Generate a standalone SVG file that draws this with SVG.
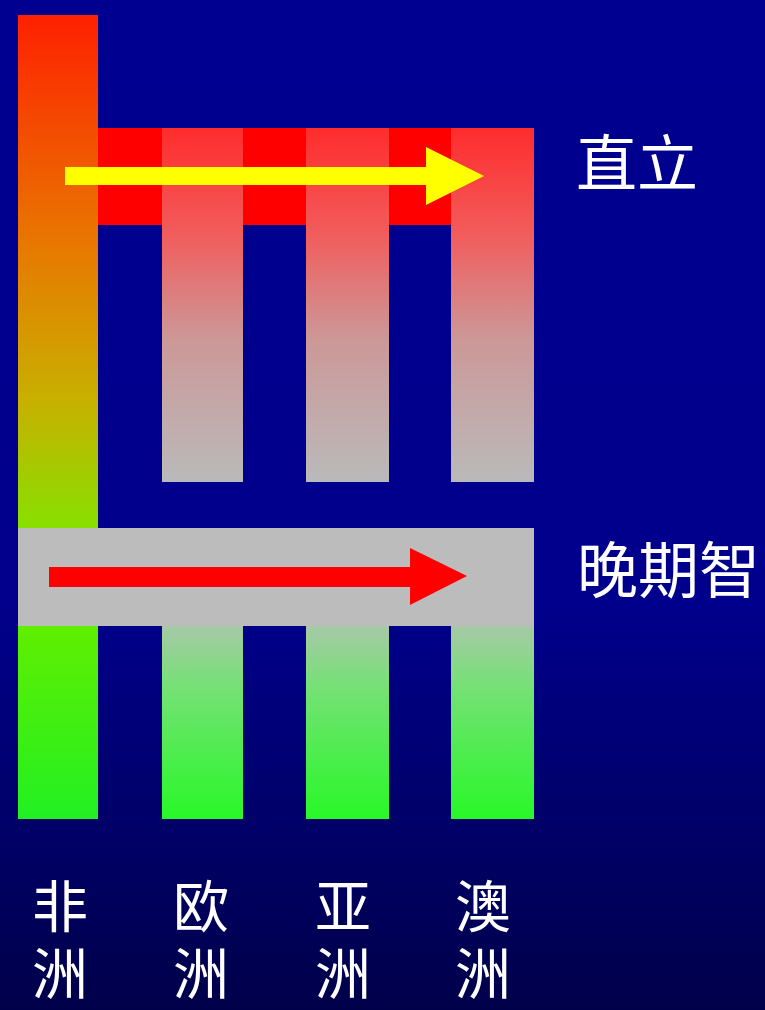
<svg xmlns="http://www.w3.org/2000/svg" width="765" height="1010" viewBox="0 0 765 1010">
<defs>
<linearGradient id="bg" x1="0" y1="0" x2="0" y2="1">
<stop offset="0" stop-color="#000090"/>
<stop offset="0.6" stop-color="#00008c"/>
<stop offset="1" stop-color="#00004a"/>
</linearGradient>
<linearGradient id="afTop" gradientUnits="userSpaceOnUse" x1="0" y1="15" x2="0" y2="528">
<stop offset="0" stop-color="#ff2000"/>
<stop offset="0.45" stop-color="#e87800"/>
<stop offset="0.75" stop-color="#c8b000"/>
<stop offset="1" stop-color="#88e000"/>
</linearGradient>
<linearGradient id="afBot" gradientUnits="userSpaceOnUse" x1="0" y1="625" x2="0" y2="818">
<stop offset="0" stop-color="#60ee00"/>
<stop offset="1" stop-color="#22f022"/>
</linearGradient>
<linearGradient id="colTop" gradientUnits="userSpaceOnUse" x1="0" y1="128" x2="0" y2="482">
<stop offset="0" stop-color="#ff2c2c"/>
<stop offset="0.3" stop-color="#f25c5c"/>
<stop offset="0.6" stop-color="#cc9898"/>
<stop offset="1" stop-color="#bababa"/>
</linearGradient>
<linearGradient id="colBot" gradientUnits="userSpaceOnUse" x1="0" y1="625" x2="0" y2="818">
<stop offset="0" stop-color="#a8c8a8"/>
<stop offset="0.3" stop-color="#78e078"/>
<stop offset="1" stop-color="#28f828"/>
</linearGradient>
<style>
.lbl{font-family:"Noto Sans CJK SC","Noto Sans",sans-serif;font-size:56px;fill:#ffffff;text-anchor:middle}
.side{font-family:"Noto Sans CJK SC","Noto Sans",sans-serif;font-size:61px;fill:#ffffff}
</style>
</defs>
<rect x="0" y="0" width="765" height="1010" fill="url(#bg)"/>
<g id="bar-erectus">
<rect x="98" y="128" width="436" height="97" fill="#ff0000"/>
</g>
<g id="col-africa">
<rect x="18" y="15" width="80" height="513" fill="url(#afTop)"/>
<rect x="18" y="625" width="80" height="194" fill="url(#afBot)"/>
</g>
<g id="col-europe">
<rect x="162" y="128" width="81" height="354" fill="url(#colTop)"/>
<rect x="162" y="625" width="81" height="194" fill="url(#colBot)"/>
</g>
<g id="col-asia">
<rect x="306" y="128" width="83" height="354" fill="url(#colTop)"/>
<rect x="306" y="625" width="83" height="194" fill="url(#colBot)"/>
</g>
<g id="col-australia">
<rect x="451" y="128" width="83" height="354" fill="url(#colTop)"/>
<rect x="451" y="625" width="83" height="194" fill="url(#colBot)"/>
</g>
<g id="bar-sapiens">
<rect x="18" y="528" width="516" height="98" fill="#bcbcbc"/>
</g>
<g id="connectors">
<polygon points="65,167 426,167 426,147 484,176 426,205 426,185 65,185" fill="#ffff00"/>
<polygon points="49,567 410,567 410,548 467,576 410,605 410,587 49,587" fill="#ff0000"/>
</g>
<g id="label-erectus"><text class="side" x="576" y="186">直立</text></g>
<g id="label-sapiens"><text class="side" x="577" y="593">晚期智</text></g>
<g id="labels-continents">
<text class="lbl" x="60" y="927">非<tspan x="60" dy="67">洲</tspan></text>
<text class="lbl" x="201" y="927">欧<tspan x="201" dy="67">洲</tspan></text>
<text class="lbl" x="343" y="927">亚<tspan x="343" dy="67">洲</tspan></text>
<text class="lbl" x="483" y="927">澳<tspan x="483" dy="67">洲</tspan></text>
</g>
</svg>
